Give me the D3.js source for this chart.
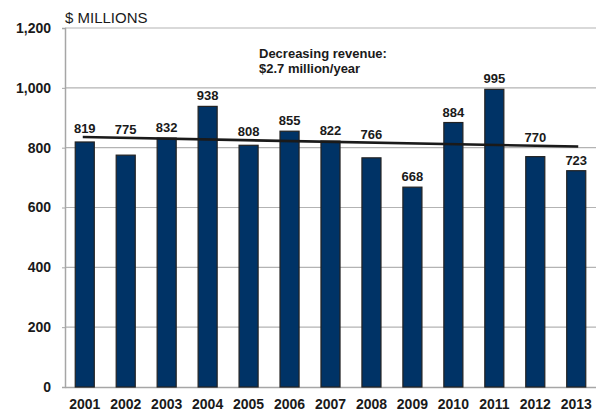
<!DOCTYPE html>
<html>
<head>
<meta charset="utf-8">
<script src="https://cdn.jsdelivr.net/npm/d3@7"></script>
<style>
  html, body { margin: 0; padding: 0; background: #fff; }
  svg { display: block; font-family: "Liberation Sans", Arial, sans-serif; }
</style>
</head>
<body>
<svg id="chart" width="596" height="413"></svg>
<script>
// Annual revenue, $ millions
const years = ["2001","2002","2003","2004","2005","2006","2007","2008","2009","2010","2011","2012","2013"];
const revenue = [819, 775, 832, 938, 808, 855, 822, 766, 668, 884, 995, 770, 723];
const yTicks = [0, 200, 400, 600, 800, 1000, 1200];
const unitLabel = "$ MILLIONS";
const noteLines = ["Decreasing revenue:", "$2.7 million/year"];

const svg = d3.select("#chart");
const plotLeft = 65, plotRight = 596, plotTop = 28, plotBottom = 387;

const x = d3.scaleBand().domain(years).range([plotLeft, plotRight]).paddingInner(0.535).paddingOuter(0.25);
const y = d3.scaleLinear().domain([0, 1200]).range([plotBottom, plotTop]);

// Horizontal gridlines
svg.append("g").selectAll("line").data(yTicks.filter(t => t > 0)).join("line")
  .attr("x1", plotLeft).attr("x2", plotRight)
  .attr("y1", d => y(d)).attr("y2", d => y(d))
  .attr("stroke", "#b3b3b3").attr("stroke-width", 1.2);

// Y axis
const yAxis = svg.append("g").attr("transform", `translate(${plotLeft},0)`)
  .call(d3.axisLeft(y).tickValues(yTicks).tickSize(3).tickPadding(11).tickFormat(d3.format(",")));
yAxis.select(".domain").attr("stroke", "#a6a6a6").attr("stroke-width", 1.5);
yAxis.selectAll(".tick line").attr("stroke", "#a6a6a6");
yAxis.selectAll(".tick text").attr("font-size", 14).attr("font-weight", "bold").attr("fill", "#1a1a1a")
  .attr("font-family", "Liberation Sans, Arial, sans-serif");

// X axis baseline and year labels
const xAxis = svg.append("g").attr("transform", `translate(0,${plotBottom})`)
  .call(d3.axisBottom(x).tickSize(0).tickPadding(12));
xAxis.select(".domain").attr("stroke", "#a6a6a6").attr("stroke-width", 1.5);
xAxis.selectAll(".tick text").attr("font-size", 14).attr("font-weight", "bold").attr("fill", "#1a1a1a")
  .attr("font-family", "Liberation Sans, Arial, sans-serif");

// Bars
svg.append("g").selectAll("rect").data(revenue).join("rect")
  .attr("x", (d, i) => x(years[i]))
  .attr("y", d => y(d))
  .attr("width", x.bandwidth())
  .attr("height", d => y(0) - y(d))
  .attr("fill", "#003366").attr("stroke", "#222").attr("stroke-width", 1.2);

// Least-squares trend line
const n = revenue.length;
const idx = d3.range(n);
const mx = d3.mean(idx), my = d3.mean(revenue);
const slope = d3.sum(idx, i => (i - mx) * (revenue[i] - my)) / d3.sum(idx, i => (i - mx) ** 2);
const trendAt = i => my + slope * (i - mx);
const cx = i => x(years[i]) + x.bandwidth() / 2;

svg.append("line")
  .attr("x1", cx(0) - 2).attr("y1", y(trendAt(0)))
  .attr("x2", cx(n - 1) + 2).attr("y2", y(trendAt(n - 1)))
  .attr("stroke", "#1a1a1a").attr("stroke-width", 2.6);

// Value labels: above the bar, or lifted above the trend line when the bar top sits close to it
svg.append("g").selectAll("text").data(revenue).join("text")
  .attr("x", (d, i) => cx(i))
  .attr("y", (d, i) => {
    const barTop = y(d), ty = y(trendAt(i));
    if (barTop - ty > 20) return barTop - 6;
    return Math.min(barTop - 6, ty - 4);
  })
  .attr("text-anchor", "middle")
  .attr("font-size", 13).attr("font-weight", "bold").attr("fill", "#1a1a1a")
  .text(d => d);

// Unit caption
svg.append("text").attr("x", plotLeft).attr("y", 22.5)
  .attr("font-size", 15).attr("fill", "#1a1a1a").text(unitLabel);

// Trend annotation
svg.append("text").attr("x", 259).attr("y", 57.5)
  .attr("font-size", 13).attr("font-weight", "bold").attr("fill", "#1a1a1a")
  .selectAll("tspan").data(noteLines).join("tspan")
  .attr("x", 259).attr("dy", (d, i) => i === 0 ? 0 : 15.8).text(d => d);
</script>
</body>
</html>
